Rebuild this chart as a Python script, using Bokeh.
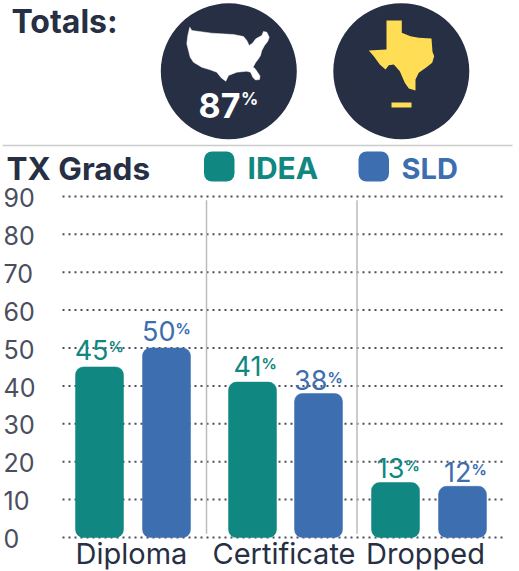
from bokeh.plotting import figure
from bokeh.models import Range1d
from bokeh.core.properties import value
from bokeh.embed import file_html
from bokeh.resources import INLINE

# ---------- data ----------
groups = ["Diploma", "Certificate", "Dropped"]
series = ["IDEA", "SLD"]
idea_bar = [45, 41, 14.5]
sld_bar = [50, 38, 13.5]
idea_label = [45, 41, 13]
sld_label = [50, 38, 12]
y_ticks = [0, 10, 20, 30, 40, 50, 60, 70, 80, 90]
total_label = "87"

# ---------- layout constants (screen-like units of the x scale) ----------
idea_x = [99, 252, 395]
sld_x = [166, 318, 462]
group_label_x = [131, 283.5, 425]
separators_x = [206, 356.5]
idea_gap = [8, 7, 5]
sld_gap = [8, 4, 5]
PX = 3.79  # pixels per value unit

# icon outlines
usa_x = [189.3,191.3,211.3,233,243,246.3,248.7,252,255.3,261.3,263,266.3,268.7,267.3,264,261.3,260,258,255.3,252.5,254.5,259.5,259,255,252.5,250,246.3,236.3,228,225.3,220.7,216.3,209.7,201.3,193,189.7,186.3,187.3]
usa_y = [26.7,30,32.7,34,36,40,45,42.7,38.3,35,31,31.7,36.7,40.7,45,50,55,58.3,61.7,66.7,68,75.5,79,79.5,77,71.7,70.7,71.7,75,80.7,77.3,71.7,69.3,66.7,61.7,56.7,43.3,35]
tex_x = [386,401.3,401.3,410,418.3,431,432,433.7,431.7,426,418.3,415,415,408.3,404.3,399.3,393.3,388.3,385,379.3,373.3,368.3,386]
tex_y = [20,20,32.3,35.7,37.3,38,51.3,55.7,62.3,66.7,72.3,79,90,88,82.3,70.7,64,64.7,69,64,55.7,50,49]

NAVY = "#262f43"
TEAL = "#108780"
BLUE = "#3c6eb0"
YELLOW = "#ffdd55"
AXIS = "#4a4e5e"
FONT = "Inter"

p = figure(width=519, height=571, output_backend="svg", toolbar_location=None,
           x_range=Range1d(0, 519), y_range=Range1d(-34 / PX, 537 / PX),
           min_border=0, outline_line_color=None,
           styles={"position": "absolute", "left": "0px", "top": "0px"})
p.extra_y_ranges = {"head": Range1d(571, 0)}
p.axis.visible = False
p.grid.visible = False


def label(x, y, text, size, color, bold=False, align="left", **kw):
    p.text(x=x, y=y, text=text, text_font=value(FONT), text_font_size=size,
           text_font_style="bold" if bold else "normal", text_color=color,
           text_align=align, text_baseline="middle", **kw)


# ---------- header ----------
H = {"y_range_name": "head"}
p.circle(x=[228.3, 400.8], y=[70.8, 70.8], radius=68, fill_color=NAVY, line_color=None, **H)
p.patch(usa_x, usa_y, fill_color="#ffffff", line_color="#ffffff", line_width=0.5, **H)
p.patch(tex_x, tex_y, fill_color=YELLOW, line_color=None, **H)
p.quad(left=[391], right=[411], top=[102], bottom=[107], fill_color=YELLOW, line_color=None, **H)
p.segment(x0=[2], x1=[512], y0=[145], y1=[145], line_color="#cccccc", line_width=1.5, **H)

label([11], [21], ["Totals:"], "32px", NAVY, bold=True, **H)
label([6], [168], ["TX Grads"], "31.5px", NAVY, bold=True, **H)
label([198], [104.5], [total_label], "34px", "#ffffff", bold=True, **H)
label([240.5], [98], ["%"], "17px", "#ffffff", bold=True, **H)

swatch_left = [203.5, 358]
p.quad(left=swatch_left, right=[s + 30.5 for s in swatch_left], top=[151, 151], bottom=[181, 181],
       fill_color=[TEAL, BLUE], line_color=None, border_radius=8, **H)
label([247], [167.5], series[:1], "30px", TEAL, bold=True, **H)
label([401], [167.5], series[1:], "29px", BLUE, bold=True, **H)

# ---------- chart ----------
p.segment(x0=[62] * len(y_ticks), x1=[506] * len(y_ticks), y0=y_ticks, y1=y_ticks,
          line_color=AXIS, line_width=2, line_dash="2 4")
label([3] * len(y_ticks), [t - 0.3 for t in y_ticks], [str(t) for t in y_ticks], "25px", AXIS)
label(group_label_x, [-16 / PX] * 3, groups, "29px", NAVY, align="center")

p.segment(x0=separators_x, x1=separators_x, y0=[1, 1], y1=[89, 89], line_color="#bbbbbb", line_width=1.5)

for xs, vals, labels, gaps, color in [(idea_x, idea_bar, idea_label, idea_gap, TEAL),
                                      (sld_x, sld_bar, sld_label, sld_gap, BLUE)]:
    p.vbar(x=xs, top=vals, bottom=0, width=48, fill_color=color, line_color=color, line_width=0.5,
           border_radius=8)
    label([x + 9 for x in xs], [v + (g + 9.4) / PX for v, g in zip(vals, gaps)],
          [str(v) for v in labels], "27px", color, align="right")
    label([x + 9 for x in xs], [v + (g + 12) / PX for v, g in zip(vals, gaps)],
          ["%"] * 3, "15px", color, bold=True)

open("out.html", "w").write(file_html(p, INLINE))
